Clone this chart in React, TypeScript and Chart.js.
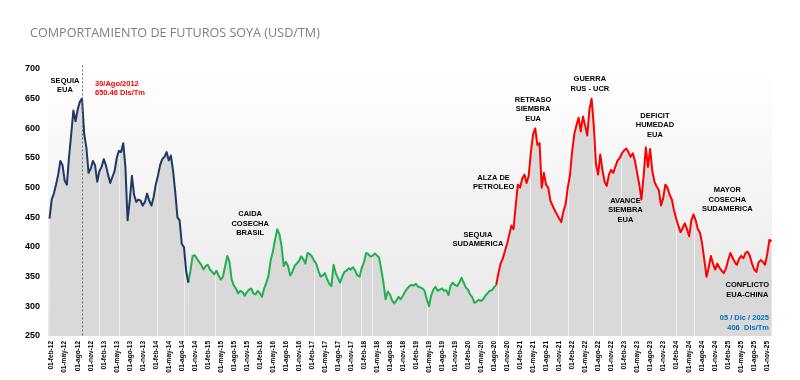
import { useEffect, useRef } from 'react';
import { Chart, registerables } from 'chart.js';

Chart.register(...registerables);

const TITLE = 'COMPORTAMIENTO DE FUTUROS SOYA (USD/TM)';

// Quarterly axis labels (x value = months since 01-feb-12)
const tickLabels = [
  '01-feb-12', '01-may-12', '01-ago-12', '01-nov-12',
  '01-feb-13', '01-may-13', '01-ago-13', '01-nov-13',
  '01-feb-14', '01-may-14', '01-ago-14', '01-nov-14',
  '01-feb-15', '01-may-15', '01-ago-15', '01-nov-15',
  '01-feb-16', '01-may-16', '01-ago-16', '01-nov-16',
  '01-feb-17', '01-may-17', '01-ago-17', '01-nov-17',
  '01-feb-18', '01-may-18', '01-ago-18', '01-nov-18',
  '01-feb-19', '01-may-19', '01-ago-19', '01-nov-19',
  '01-feb-20', '01-may-20', '01-ago-20', '01-nov-20',
  '01-feb-21', '01-may-21', '01-ago-21', '01-nov-21',
  '01-feb-22', '01-may-22', '01-ago-22', '01-nov-22',
  '01-feb-23', '01-may-23', '01-ago-23', '01-nov-23',
  '01-feb-24', '01-may-24', '01-ago-24', '01-nov-24',
  '01-feb-25', '01-may-25', '01-ago-25', '01-nov-25',
];
const TICK_STEP_MONTHS = 3;
const yTicks = [250, 300, 350, 400, 450, 500, 550, 600, 650, 700];

// Semi-monthly closing prices (USD/TM); first value of each period at its start month
const STEP_MONTHS = 0.5;

// Period 1 (navy): 16-ene-12 .. 16-sep-14
const navyStart = -0.5;
const navyValues = [
  448,
  480, 490, 505, 522, 545, 538, 512, 505, 552, 590, 630, 612, 632, 645, 650, 590, 568, 525, 532, 545, 538, 510,
  528, 535, 548, 538, 522, 508, 518, 528, 550, 562, 560, 575, 535, 445, 478, 520, 488, 476, 480, 478, 470, 476, 490, 478,
  470, 484, 505, 520, 538, 548, 552, 560, 546, 554, 528, 492, 450, 445, 405, 400, 360, 340,
];

// Period 2 (green): 16-sep-14 .. 16-jul-20
const greenStart = 31.5;
const greenValues = [
  340, 360, 385, 386, 380, 375, 370,
  362, 368, 370, 362, 358, 354, 360, 352, 345, 350, 368, 385, 375, 345, 335, 330, 322, 326, 324, 318, 324, 328, 330, 322,
  320, 326, 322, 316, 330, 340, 352, 378, 392, 412, 430, 422, 402, 368, 375, 368, 352, 358, 368, 372, 376, 384, 380, 372,
  390, 388, 384, 377, 372, 360, 350, 352, 356, 346, 338, 334, 370, 356, 348, 340, 350, 358, 360, 364, 362, 366, 360, 352,
  350, 365, 374, 390, 388, 384, 385, 389, 386, 382, 362, 340, 312, 325, 320, 310, 305, 310, 316, 312, 318, 325, 330, 334,
  336, 335, 338, 333, 332, 330, 326, 312, 300, 318, 328, 333, 326, 328, 330, 326, 327, 319, 335, 340, 336, 334, 340, 348,
  340, 332, 328, 320, 315, 306, 308, 311, 309, 312, 318, 322, 326, 327, 332, 336,
];

// Period 3 (red): 16-jul-20 .. 01-dic-25
const redStart = 102.5;
const redValues = [
  336, 355, 372, 380, 393, 405, 420, 436, 430,
  470, 505, 500, 515, 522, 508, 520, 560, 590, 600, 572, 575, 500, 525, 505, 500, 478, 470, 462, 455, 448, 442, 460, 472,
  500, 520, 560, 590, 605, 618, 595, 620, 605, 588, 632, 650, 605, 540, 522, 556, 530, 510, 503, 522, 530, 525, 536, 546,
  550, 558, 563, 566, 560, 552, 558, 545, 525, 505, 480, 520, 568, 535, 565, 528, 510, 502, 496, 470, 482, 505, 500, 488,
  480, 462, 448, 436, 425, 432, 440, 430, 418, 445, 455, 445, 430, 424, 405, 378, 350, 365, 385, 372, 362, 372, 365, 360,
  356, 364, 378, 390, 382, 375, 370, 380, 385, 381, 390, 392, 385, 372, 362, 358, 374, 378, 375, 370, 388, 412, 410,
];

const seriesColors = ['#1f3864', '#21b04f', '#ff0000'];

// Light vertical streaks in the shaded area (months since 01-feb-12)
const streakMonths = [10.9, 15.5, 24.2, 30.6, 37.6, 60.4, 66.8, 71.4, 73.9, 86.5, 103.0, 110.2, 119.0, 124.9, 131.2, 143.9, 148.1];

// Peak marker: 30/Ago/2012
const peakMonth = 6.95;

type Note = { m: number; v: number; lines: string[]; color: string; align: CanvasTextAlign };
const notes: Note[] = [
  { m: 3.07, v: 680, lines: ['SEQUIA', 'EUA'], color: '#000000', align: 'center' },
  { m: 9.99, v: 675, lines: ['30/Ago/2012', '650.46 Dls/Tm'], color: '#ff0000', align: 'left' },
  { m: 45.76, v: 455, lines: ['CAIDA', 'COSECHA', 'BRASIL'], color: '#000000', align: 'center' },
  { m: 98.3, v: 421, lines: ['SEQUIA', 'SUDAMERICA'], color: '#000000', align: 'center' },
  { m: 101.9, v: 517, lines: ['ALZA DE', 'PETROLEO'], color: '#000000', align: 'center' },
  { m: 111.0, v: 648, lines: ['RETRASO', 'SIEMBRA', 'EUA'], color: '#000000', align: 'center' },
  { m: 124.1, v: 683, lines: ['GUERRA', 'RUS - UCR'], color: '#000000', align: 'center' },
  { m: 132.3, v: 478, lines: ['AVANCE', 'SIEMBRA', 'EUA'], color: '#000000', align: 'center' },
  { m: 139.1, v: 621, lines: ['DEFICIT', 'HUMEDAD', 'EUA'], color: '#000000', align: 'center' },
  { m: 155.8, v: 496, lines: ['MAYOR', 'COSECHA', 'SUDAMERICA'], color: '#000000', align: 'center' },
  { m: 160.4, v: 336, lines: ['CONFLICTO', 'EUA-CHINA'], color: '#000000', align: 'center' },
  { m: 165.4, v: 280, lines: ['05 / Dic / 2025', '406  Dls/Tm'], color: '#0070c0', align: 'right' },
];

const toPoints = (start: number, values: number[]) =>
  values.map((v, i) => ({ x: start + i * STEP_MONTHS, y: v }));

const FONT = '"Liberation Sans", Arial, sans-serif';

const decorPlugin = {
  id: 'decor',
  beforeDatasetsDraw(chart: any) {
    const { ctx, chartArea: a, scales } = chart;
    const x = scales.x;
    ctx.save();
    ctx.beginPath();
    ctx.rect(a.left, a.top, a.right - a.left, a.bottom - a.top);
    ctx.clip();
    ctx.globalCompositeOperation = 'source-atop';
    ctx.strokeStyle = '#efefef';
    ctx.lineWidth = 1;
    for (const m of streakMonths) {
      const px = Math.round(x.getPixelForValue(m)) + 0.5;
      ctx.beginPath();
      ctx.moveTo(px, a.top);
      ctx.lineTo(px, a.bottom);
      ctx.stroke();
    }
    ctx.globalCompositeOperation = 'destination-over';
    const g = ctx.createLinearGradient(0, a.top, 0, a.bottom);
    g.addColorStop(0, '#ffffff');
    g.addColorStop(1, '#e8e8e8');
    ctx.fillStyle = g;
    ctx.fillRect(a.left, a.top, a.right - a.left, a.bottom - a.top);
    ctx.restore();
  },
  afterDatasetsDraw(chart: any) {
    const { ctx, chartArea: a, scales } = chart;
    const x = scales.x;
    const y = scales.y;
    ctx.save();
    // dashed peak marker
    const px = Math.round(x.getPixelForValue(peakMonth)) + 0.5;
    ctx.strokeStyle = '#6b6b6b';
    ctx.lineWidth = 1;
    ctx.setLineDash([2, 2]);
    ctx.beginPath();
    ctx.moveTo(px, y.getPixelForValue(706));
    ctx.lineTo(px, a.bottom);
    ctx.stroke();
    ctx.setLineDash([]);
    // notes
    ctx.font = `bold 7.5px ${FONT}`;
    ctx.textBaseline = 'middle';
    for (const n of notes) {
      ctx.fillStyle = n.color;
      ctx.textAlign = n.align;
      const nx = x.getPixelForValue(n.m);
      const ny = y.getPixelForValue(n.v);
      n.lines.forEach((t, i) => ctx.fillText(t, nx, ny + i * 9.5));
    }
    ctx.restore();
  },
};

export default function App() {
  const canvasRef = useRef<HTMLCanvasElement | null>(null);

  useEffect(() => {
    if (!canvasRef.current) return;
    const periods = [
      { start: navyStart, values: navyValues },
      { start: greenStart, values: greenValues },
      { start: redStart, values: redValues },
    ];
    const chart = new Chart(canvasRef.current, {
      type: 'line',
      data: {
        datasets: periods.map((p, i) => ({
          data: toPoints(p.start, p.values),
          borderColor: seriesColors[i],
          backgroundColor: '#d9d9d9',
          borderWidth: 2,
          pointRadius: 0,
          tension: 0,
          fill: 'start',
          borderJoinStyle: 'round' as const,
        })),
      },
      options: {
        responsive: false,
        animation: false,
        events: [],
        layout: { padding: { top: 69, right: 28, left: 0, bottom: 0 } },
        plugins: {
          legend: { display: false },
          tooltip: { enabled: false },
          filler: { drawTime: 'beforeDatasetsDraw' },
        } as any,
        scales: {
          x: {
            type: 'linear',
            min: -0.85,
            max: 166.1,
            grid: { display: false, drawTicks: false },
            border: { display: false },
            afterBuildTicks: (s: any) => {
              s.ticks = tickLabels.map((_, i) => ({ value: i * TICK_STEP_MONTHS }));
            },
            afterFit: (s: any) => {
              s.height = 44;
            },
            ticks: {
              autoSkip: false,
              minRotation: 90,
              maxRotation: 90,
              padding: 5,
              color: '#000000',
              font: { size: 6.5, weight: 'bold', family: FONT },
              callback: (_v: any, i: number) => tickLabels[i],
            },
          },
          y: {
            min: 250,
            max: 700,
            grid: { display: false, drawTicks: false },
            border: { display: false },
            afterBuildTicks: (s: any) => {
              s.ticks = yTicks.map((v) => ({ value: v }));
            },
            afterFit: (s: any) => {
              s.width = 48;
            },
            ticks: {
              padding: 8,
              color: '#000000',
              font: { size: 9, weight: 'bold', family: FONT },
            },
          },
        },
      } as any,
      plugins: [decorPlugin],
    });
    return () => chart.destroy();
  }, []);

  return (
    <div style={{ position: 'fixed', left: 0, top: 0, width: 800, height: 380, background: '#ffffff' }}>
      <canvas ref={canvasRef} width={800} height={380} style={{ display: 'block', width: 800, height: 380 }} />
      <div
        style={{
          position: 'absolute',
          left: 30,
          top: 24,
          fontFamily: '"Open Sans", sans-serif',
          fontSize: 12.6,
          lineHeight: '18px',
          color: '#7f7f7f',
          whiteSpace: 'nowrap',
        }}
      >
        {TITLE}
      </div>
    </div>
  );
}
